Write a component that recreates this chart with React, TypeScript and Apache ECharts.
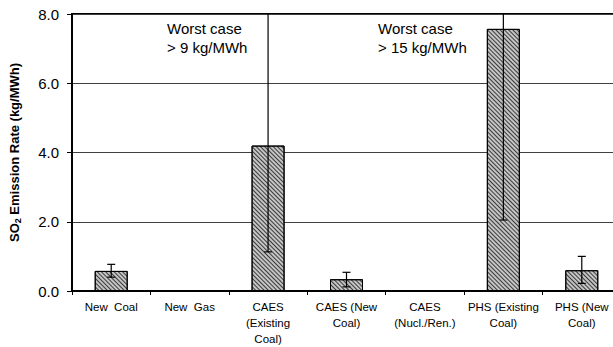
import React, { useEffect, useRef } from "react";
import * as echarts from "echarts";

const categories = [
  "New  Coal",
  "New  Gas",
  "CAES\n(Existing\nCoal)",
  "CAES (New\nCoal)",
  "CAES\n(Nucl./Ren.)",
  "PHS (Existing\nCoal)",
  "PHS (New\nCoal)",
];
const emissionValues: (number | null)[] = [0.58, null, 4.2, 0.34, null, 7.57, 0.6];
const errorLow: (number | null)[] = [0.4, null, 1.13, 0.12, null, 2.05, 0.22];
const errorHigh: (number | null)[] = [0.77, null, 9, 0.54, null, 15, 1.0];
const yTicks = [0, 2, 4, 6, 8];
const annotations = [
  { text: "Worst case\n> 9 kg/MWh", left: 167 },
  { text: "Worst case\n> 15 kg/MWh", left: 378 },
];

const FONT = '"Liberation Sans", Arial, sans-serif';

export default function App() {
  const ref = useRef<HTMLDivElement>(null);
  useEffect(() => {
    if (!ref.current) return;
    const chart = echarts.init(ref.current, undefined, { renderer: "svg" });
    const yMin = yTicks[0];
    const yMax = yTicks[yTicks.length - 1];
    const errData = categories
      .map((_, i) => [i, errorLow[i], errorHigh[i]])
      .filter((d) => d[1] != null && d[2] != null);
    chart.setOption({
      animation: false,
      backgroundColor: "#fff",
      textStyle: { fontFamily: FONT },
      grid: {
        left: 71,
        top: 14,
        right: 9,
        bottom: 55,
        show: true,
        borderColor: "#000",
        borderWidth: 2,
        backgroundColor: "transparent",
      },
      xAxis: {
        type: "category",
        data: categories,
        boundaryGap: true,
        axisLine: { show: true, lineStyle: { color: "#000", width: 2 } },
        axisTick: { show: true, alignWithLabel: false, length: 4, lineStyle: { color: "#000", width: 1 } },
        axisLabel: {
          color: "#000",
          fontSize: 11.5,
          fontFamily: FONT,
          lineHeight: 16,
          margin: 8,
          interval: 0,
        },
        splitLine: { show: false },
      },
      yAxis: {
        type: "value",
        min: yMin,
        max: yMax,
        interval: 2,
        name: "{a|SO}{b|2}{a| Emission Rate (kg/MWh)}",
        nameLocation: "middle",
        nameGap: 50,
        nameTextStyle: {
          rich: {
            a: { fontSize: 13, fontWeight: "bold", fontFamily: FONT, color: "#000" },
            b: { fontSize: 9, fontWeight: "bold", fontFamily: FONT, color: "#000", padding: [6, 0, 0, 0] },
          },
        },
        axisLine: { show: true, lineStyle: { color: "#000", width: 2 } },
        axisTick: { show: true, length: 5, lineStyle: { color: "#000", width: 1 } },
        axisLabel: {
          color: "#000",
          fontSize: 15,
          fontFamily: FONT,
          margin: 13,
          formatter: (v: number) => v.toFixed(1),
        },
        splitLine: { show: true, lineStyle: { color: "#404040", width: 1 } },
      },
      series: [
        {
          type: "bar",
          data: emissionValues,
          barWidth: 33,
          itemStyle: {
            color: "#c4c4c4",
            borderColor: "#000",
            borderWidth: 1,
            decal: {
              symbol: "rect",
              symbolSize: 1,
              dashArrayX: [1, 0],
              dashArrayY: [1, 1.2],
              rotation: Math.PI / 4,
              color: "rgba(0,0,0,0.7)",
            },
          },
          z: 2,
        },
        {
          type: "custom",
          data: errData,
          encode: { x: 0, y: [1, 2] },
          z: 5,
          renderItem: (params: any, api: any) => {
            const idx = api.value(0);
            const lo = api.value(1);
            const hi = api.value(2);
            const hiClamped = Math.min(hi, yMax);
            const pLo = api.coord([idx, lo]);
            const pHi = api.coord([idx, hiClamped]);
            const x = pLo[0];
            const cap = 4;
            const style = { stroke: "#000", lineWidth: 1.2 };
            const children: any[] = [
              { type: "line", shape: { x1: x, y1: pLo[1], x2: x, y2: pHi[1] }, style },
              { type: "line", shape: { x1: x - cap, y1: pLo[1], x2: x + cap, y2: pLo[1] }, style },
            ];
            if (hi <= yMax) {
              children.push({ type: "line", shape: { x1: x - cap, y1: pHi[1], x2: x + cap, y2: pHi[1] }, style });
            }
            return { type: "group", children };
          },
        },
      ],
      graphic: annotations.map((a) => ({
        type: "text",
        left: a.left,
        top: 19,
        style: {
          text: a.text,
          font: `15px ${FONT}`,
          fill: "#000",
          lineHeight: 19,
        },
        z: 10,
      })),
    });
    return () => chart.dispose();
  }, []);
  return (
    <div
      ref={ref}
      style={{ position: "fixed", left: 0, top: 0, width: 630, height: 347 }}
    />
  );
}
